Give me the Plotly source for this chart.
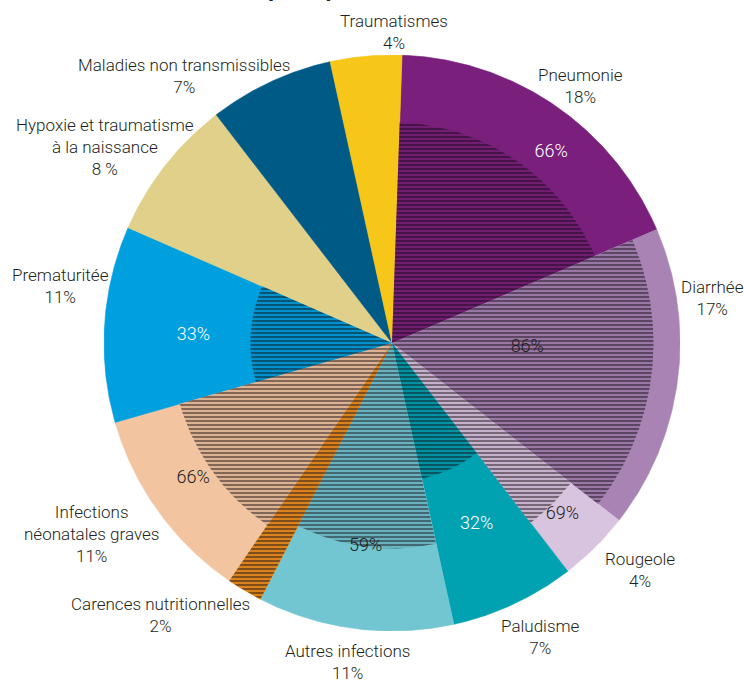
import math
import plotly.graph_objects as go

# ---------------- data ----------------
causes = ["Pneumonie", "Diarrhée", "Rougeole", "Paludisme", "Autres infections",
          "Carences nutritionnelles", "Infections néonatales graves", "Prematuritée",
          "Hypoxie et traumatisme à la naissance", "Maladies non transmissibles",
          "Traumatismes"]
shares = [18, 17, 4, 7, 11, 2, 11, 11, 8, 7, 4]
share_labels = ["18%", "17%", "4%", "7%", "11%", "2%", "11%", "11%", "8 %", "7%", "4%"]
hatched_share = [66, 86, 69, 32, 59, 100, 66, 33, None, None, None]
hatched_labels = ["66%", "86%", "69%", "32%", "59%", "", "66%", "33%", "", "", ""]
title_text = "(2008)"

# ---------------- style ----------------
colors = ["#7B1F7D", "#A883B4", "#D9C4DF", "#00A1B1", "#72C6D2", "#F0901E",
          "#F2C5A0", "#00A0DF", "#E0D08A", "#005A86", "#F6C618"]
inner_text_colors = ["white", "#231F20", "#231F20", "white", "#231F20", "#231F20",
                     "#231F20", "white", "#231F20", "#231F20", "#231F20"]
inner_label_r = [0.863, 0.47, 0.84, 0.695, 0.712, 0.5, 0.835, 0.69, 0.5, 0.5, 0.5]
inner_label_dtheta = [5.4, -5.4, 0, 0, 0, 0, 1.6, -1.5, 0, 0, 0]
outer_label_text = ["Pneumonie", "Diarrhée", "Rougeole", "Paludisme", "Autres infections",
                    "Carences nutritionnelles", "Infections<br>néonatales graves",
                    "Prematuritée", "Hypoxie et traumatisme<br>à la naissance",
                    "Maladies non transmissibles", "Traumatismes"]
outer_label_px = [(580, 86), (712, 298), (640, 570), (540, 637), (347, 662),
                  (160, 615), (91, 534), (60, 286), (105, 147), (184, 76), (394, 32)]
start_angle = 2.0
hatch_exponent = 0.64
W, H = 744, 681
CX, CY, R = 392, 343, 288
FONT = "Roboto, Liberation Sans, Arial, sans-serif"
TEXT_DARK = "#231F20"
HATCH_LINE = "#120A12"


def wedge(a0, a1, r):
    """Polygon (data units) of a pie wedge, angles clockwise from north, degrees."""
    n = max(2, int((a1 - a0) / 0.4) + 2)
    xs, ys = [0.0], [0.0]
    for k in range(n):
        a = math.radians(a0 + (a1 - a0) * k / (n - 1))
        xs.append(r * math.sin(a))
        ys.append(r * math.cos(a))
    xs.append(0.0)
    ys.append(0.0)
    return xs, ys


total = sum(shares)
spans = [s / total * 360 for s in shares]
starts, mids = [], []
acc = start_angle
for sp in spans:
    starts.append(acc)
    mids.append(acc + sp / 2)
    acc += sp

fig = go.Figure()

# solid slices
for i, name in enumerate(causes):
    xs, ys = wedge(starts[i], starts[i] + spans[i], 1.0)
    fig.add_trace(go.Scatter(
        x=xs, y=ys, mode="lines", fill="toself", fillcolor=colors[i],
        line=dict(color=colors[i], width=0.6), name=name,
        hoverinfo="name",
    ))

# hatched inner wedges
for i, h in enumerate(hatched_share):
    if h is None:
        continue
    rh = (h / 100) ** hatch_exponent
    xs, ys = wedge(starts[i], starts[i] + spans[i], rh)
    fig.add_trace(go.Scatter(
        x=xs, y=ys, mode="lines", fill="toself", fillcolor=colors[i],
        line=dict(color=colors[i], width=0),
        fillpattern=dict(shape="-", size=4, solidity=0.6,
                         fgcolor=HATCH_LINE, bgcolor=colors[i]),
        hoverinfo="skip",
    ))

# inner percentage labels
lab_idx = [i for i, t in enumerate(hatched_labels) if t]
lx, ly = [], []
for i in lab_idx:
    a = math.radians(mids[i] + inner_label_dtheta[i])
    lx.append(inner_label_r[i] * math.sin(a))
    ly.append(inner_label_r[i] * math.cos(a))
fig.add_trace(go.Scatter(
    x=lx, y=ly, text=[hatched_labels[i] for i in lab_idx], mode="text",
    textposition="middle center", cliponaxis=False,
    textfont=dict(family=FONT, size=18, weight=300,
                  color=[inner_text_colors[i] for i in lab_idx]),
    hoverinfo="skip",
))

annotations = []
for name, pct, (px, py) in zip(outer_label_text, share_labels, outer_label_px):
    annotations.append(dict(
        x=px / W, y=1 - py / H, xref="paper", yref="paper",
        text=f"{name}<br>{pct}", showarrow=False, align="center",
        xanchor="center", yanchor="middle",
        font=dict(family=FONT, size=17, weight=300, color=TEXT_DARK),
    ))
annotations.append(dict(
    x=299 / W, y=1 - 3 / H, xref="paper", yref="paper", text=f"<b>{title_text}</b>",
    showarrow=False, xanchor="center", yanchor="bottom",
    font=dict(family="Liberation Sans, Arial, sans-serif", size=24, color=TEXT_DARK),
))

axis_common = dict(range=[-1, 1], visible=False, fixedrange=True)
fig.update_layout(
    width=W, height=H,
    margin=dict(l=0, r=0, t=0, b=0),
    paper_bgcolor="white", plot_bgcolor="rgba(0,0,0,0)",
    showlegend=False,
    xaxis=dict(domain=[(CX - R) / W, (CX + R) / W], **axis_common),
    yaxis=dict(domain=[(H - CY - R) / H, (H - CY + R) / H], **axis_common),
    annotations=annotations,
)

fig.write_html("out.html", config={"displayModeBar": False},
               post_script="document.body.style.margin='0';")
